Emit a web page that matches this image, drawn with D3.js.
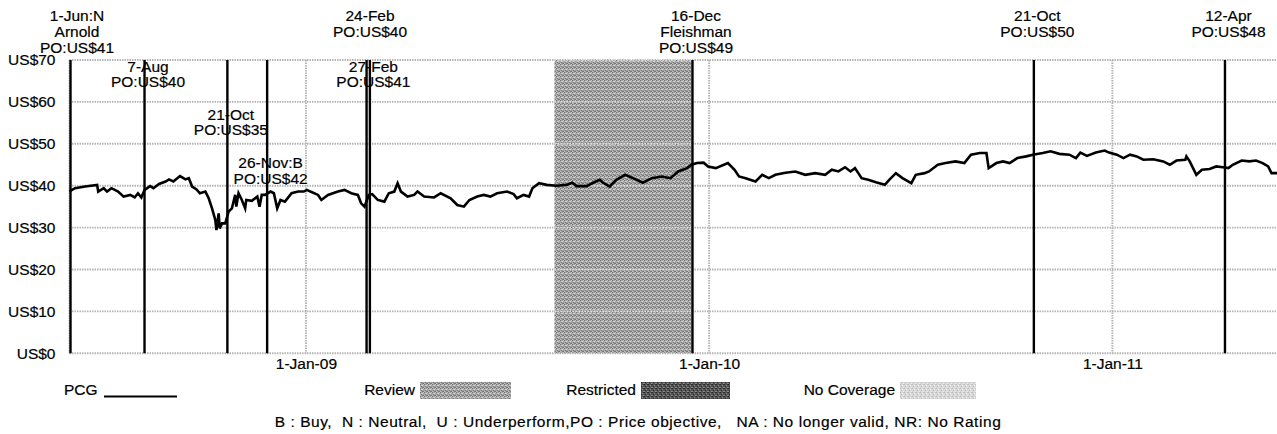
<!DOCTYPE html>
<html><head><meta charset="utf-8">
<script src="https://cdn.jsdelivr.net/npm/d3@7"></script>
<style>
html,body{margin:0;padding:0;background:#fff;}
text{font-family:"Liberation Sans",Arial,sans-serif;fill:#000;stroke:#000;stroke-width:0.2px;}
</style></head>
<body><svg id="c" width="1277" height="434"></svg>
<script>
// ---------- data ----------
const priceDates = ["2008-06-01","2008-06-02","2008-06-06","2008-06-15","2008-06-26","2008-06-27","2008-07-02","2008-07-05","2008-07-09","2008-07-15","2008-07-20","2008-07-26","2008-07-30","2008-08-02","2008-08-05","2008-08-08","2008-08-13","2008-08-16","2008-08-21","2008-08-27","2008-08-30","2008-09-03","2008-09-09","2008-09-14","2008-09-17","2008-09-20","2008-09-24","2008-09-27","2008-10-02","2008-10-05","2008-10-08","2008-10-11","2008-10-12","2008-10-14","2008-10-15","2008-10-17","2008-10-20","2008-10-23","2008-10-26","2008-10-29","2008-10-30","2008-11-01","2008-11-04","2008-11-07","2008-11-08","2008-11-13","2008-11-18","2008-11-20","2008-11-22","2008-11-25","2008-11-30","2008-12-03","2008-12-06","2008-12-09","2008-12-13","2008-12-19","2008-12-25","2008-12-30","2009-01-02","2009-01-05","2009-01-12","2009-01-15","2009-01-21","2009-01-30","2009-02-05","2009-02-11","2009-02-17","2009-02-20","2009-02-23","2009-02-27","2009-03-02","2009-03-07","2009-03-13","2009-03-17","2009-03-22","2009-03-25","2009-03-28","2009-04-03","2009-04-09","2009-04-12","2009-04-18","2009-04-27","2009-05-03","2009-05-12","2009-05-18","2009-05-24","2009-05-29","2009-06-05","2009-06-11","2009-06-17","2009-06-23","2009-07-02","2009-07-08","2009-07-11","2009-07-17","2009-07-22","2009-07-25","2009-07-31","2009-08-07","2009-08-16","2009-08-25","2009-08-30","2009-09-03","2009-09-12","2009-09-18","2009-09-24","2009-09-27","2009-10-03","2009-10-09","2009-10-17","2009-10-24","2009-11-02","2009-11-10","2009-11-19","2009-11-27","2009-12-04","2009-12-12","2009-12-16","2009-12-21","2009-12-27","2009-12-31","2010-01-07","2010-01-18","2010-01-24","2010-01-28","2010-02-03","2010-02-12","2010-02-18","2010-02-24","2010-03-02","2010-03-11","2010-03-20","2010-03-29","2010-04-07","2010-04-16","2010-04-22","2010-04-28","2010-05-04","2010-05-09","2010-05-13","2010-05-19","2010-05-25","2010-06-01","2010-06-09","2010-06-13","2010-06-19","2010-06-25","2010-07-03","2010-07-07","2010-07-15","2010-07-19","2010-07-27","2010-08-03","2010-08-12","2010-08-20","2010-08-26","2010-09-03","2010-09-09","2010-09-11","2010-09-18","2010-09-24","2010-09-30","2010-10-07","2010-10-15","2010-10-21","2010-10-30","2010-11-06","2010-11-14","2010-11-23","2010-11-29","2010-12-03","2010-12-09","2010-12-17","2010-12-25","2010-12-29","2011-01-05","2011-01-11","2011-01-17","2011-01-23","2011-01-29","2011-02-07","2011-02-16","2011-02-22","2011-02-28","2011-03-08","2011-03-09","2011-03-12","2011-03-15","2011-03-18","2011-03-23","2011-03-30","2011-04-05","2011-04-11","2011-04-16","2011-04-20","2011-04-28","2011-05-05","2011-05-11","2011-05-17","2011-05-22","2011-05-25","2011-05-30"];
const priceValues = [39.0,38.8,39.4,39.8,40.2,38.6,39.4,38.6,39.4,38.6,37.4,37.8,37.2,38.2,37.2,39.0,39.9,39.4,40.4,41.0,41.5,41.0,42.3,41.5,41.8,39.8,39.1,38.2,38.6,37.0,34.6,31.8,29.4,33.4,29.8,31.0,31.0,33.8,34.6,37.8,35.0,38.2,36.6,34.6,36.6,36.4,37.4,35.0,37.8,37.8,38.6,38.2,34.6,36.6,36.2,38.2,38.6,38.6,39.0,38.6,37.8,36.6,37.8,38.6,39.0,38.2,37.8,35.8,35.0,37.8,38.0,36.6,36.2,38.2,38.6,40.6,38.6,37.4,37.8,38.6,37.4,37.2,38.2,37.0,35.4,35.0,36.6,37.4,37.8,37.4,38.2,38.6,38.0,37.0,37.8,37.4,39.4,40.6,40.2,40.0,40.2,40.7,39.9,39.9,40.7,41.4,40.7,39.8,41.4,42.6,41.8,40.7,41.8,42.2,41.8,43.4,44.2,45.0,45.4,45.5,44.6,44.2,45.4,43.8,42.2,41.8,41.0,42.6,41.8,42.6,43.1,43.4,42.6,43.0,42.6,43.8,43.4,44.4,43.4,44.2,41.8,41.4,40.8,40.2,41.4,43.0,41.8,40.6,42.6,43.0,43.4,45.0,45.4,45.8,45.4,47.4,47.8,47.8,44.2,45.4,45.8,45.4,46.6,47.0,47.4,47.8,48.2,47.6,47.4,46.6,47.9,47.1,47.9,48.4,47.9,47.4,46.6,47.4,47.0,46.2,46.3,45.8,45.0,46.0,46.2,47.0,45.8,44.2,42.6,43.8,44.0,44.6,44.4,44.2,45.0,46.0,45.8,46.0,45.4,44.6,43.0,43.0];

const ratingDates = ["2008-06-01","2008-08-07","2008-10-21","2008-11-26","2009-02-24","2009-02-27","2009-12-16","2010-10-21","2011-04-12"];
const ratingLabels = [
  ["1-Jun:N","Arnold","PO:US$41"],
  ["7-Aug","PO:US$40"],
  ["21-Oct","PO:US$35"],
  ["26-Nov:B","PO:US$42"],
  ["24-Feb","PO:US$40"],
  ["27-Feb","PO:US$41"],
  ["16-Dec","Fleishman","PO:US$49"],
  ["21-Oct","PO:US$50"],
  ["12-Apr","PO:US$48"]
];
const reviewStart = "2009-08-14";
const reviewEnd = "2009-12-16";
const yTicks = [0,10,20,30,40,50,60,70];
const xTickDates = ["2009-01-01","2010-01-01","2011-01-01"];
const xTickLabels = ["1-Jan-09","1-Jan-10","1-Jan-11"];
const legendItems = ["Review","Restricted","No Coverage"];
const seriesName = "PCG";
const footnote = "B : Buy,  N : Neutral,  U : Underperform,PO : Price objective,   NA : No longer valid, NR: No Rating";

// ---------- layout ----------
const parse = d3.timeParse("%Y-%m-%d");
const svg = d3.select("#c");
const L = 69.5, R = 1277, T = 60, B = 353.3;
const FS = "15.5px";
const x = d3.scaleTime().domain([parse("2008-06-01"), parse("2011-05-30")]).range([L, R]);
const y = d3.scaleLinear().domain([0, 70]).range([B, T]);

// patterns
const defs = svg.append("defs");
function pat(id, base, dots) {
  const p = defs.append("pattern").attr("id", id).attr("width", 4).attr("height", 4)
    .attr("patternUnits", "userSpaceOnUse");
  p.append("rect").attr("width", 4).attr("height", 4).attr("fill", base);
  dots.forEach(d => p.append("rect").attr("x", d[0]).attr("y", d[1]).attr("width", 1).attr("height", 1).attr("fill", d[2]));
}
pat("pReview", "#a4a4a4", [[0,0,"#707070"],[2,1,"#cccccc"],[1,2,"#7a7a7a"],[3,3,"#727272"],[3,0,"#c8c8c8"],[0,3,"#c6c6c6"],[2,3,"#808080"],[1,1,"#d0d0d0"]]);
pat("pRestr", "#545454", [[0,0,"#222"],[2,1,"#8a8a8a"],[1,2,"#2a2a2a"],[3,3,"#909090"],[3,0,"#333"],[0,3,"#7e7e7e"]]);
pat("pNoCov", "#d8d8d8", [[0,0,"#bcbcbc"],[2,1,"#f2f2f2"],[1,2,"#c0c0c0"],[3,3,"#eeeeee"],[3,0,"#c6c6c6"]]);

// review shading
svg.append("rect").attr("x", x(parse(reviewStart))).attr("y", y(70))
  .attr("width", x(parse(reviewEnd)) - x(parse(reviewStart))).attr("height", y(0) - y(70))
  .attr("fill", "url(#pReview)");

// grid
const grid = svg.append("g").attr("stroke", "#b4b4b4").attr("stroke-width", 1.9).attr("stroke-dasharray", "1.5,1");
grid.selectAll("line.h").data(yTicks).join("line").attr("class", "h")
  .attr("x1", L).attr("x2", R).attr("y1", d => y(d)).attr("y2", d => y(d));
grid.selectAll("line.v").data(xTickDates).join("line").attr("class", "v")
  .attr("x1", d => x(parse(d))).attr("x2", d => x(parse(d))).attr("y1", y(70)).attr("y2", y(0));
grid.append("line").attr("x1", L).attr("x2", L).attr("y1", y(70)).attr("y2", y(0));
// lighter grid over the review band
const rx0 = x(parse(reviewStart)), rx1 = x(parse(reviewEnd));
svg.append("g").attr("stroke", "#dedede").attr("stroke-width", 1.4).attr("stroke-dasharray", "1.5,1.5")
  .selectAll("line").data(yTicks.slice(1)).join("line")
  .attr("x1", rx0).attr("x2", rx1).attr("y1", d => y(d)).attr("y2", d => y(d));

// axes
const yAxis = d3.axisLeft(y).tickValues(yTicks).tickSize(0).tickPadding(14).tickFormat(d => "US$" + d);
const ya = svg.append("g").attr("transform", `translate(${L},0)`).call(yAxis);
ya.select(".domain").remove();
ya.selectAll("text").attr("font-size", FS).style("font-family", '"Liberation Sans",Arial,sans-serif').attr("fill", "#000");

const xAxis = d3.axisBottom(x).tickValues(xTickDates.map(parse)).tickSize(0).tickPadding(5)
  .tickFormat((d, i) => xTickLabels[i]);
const xa = svg.append("g").attr("transform", `translate(0,${B})`).call(xAxis);
xa.select(".domain").remove();
xa.selectAll("text").attr("font-size", FS).style("font-family", '"Liberation Sans",Arial,sans-serif').attr("fill", "#000");

// rating lines
svg.append("g").selectAll("line").data(ratingDates).join("line")
  .attr("x1", d => x(parse(d)) + 1).attr("x2", d => x(parse(d)) + 1)
  .attr("y1", y(70)).attr("y2", y(0)).attr("stroke", "#000").attr("stroke-width", 2.4);

// price line
const pts = priceDates.map((d, i) => [parse(d), priceValues[i]]);
svg.append("path").datum(pts).attr("fill", "none").attr("stroke", "#000").attr("stroke-width", 2.6)
  .attr("stroke-linejoin", "miter").attr("d", d3.line().x(d => x(d[0])).y(d => y(d[1])));

// rating labels
const labelLevel = [0, 1, 2, 3, 0, 1, 0, 0, 0];
const levelBase = [21, 71.5, 119.5, 168];
const lineH = 15.8;
const lab = svg.append("g").attr("font-size", FS).attr("text-anchor", "middle");
ratingLabels.forEach((lines, i) => {
  let cx = x(parse(ratingDates[i])) + 4.5;
  if (i === 0) cx = 77;
  lines.forEach((s, j) => {
    lab.append("text").attr("x", cx).attr("y", levelBase[labelLevel[i]] + j * lineH).text(s);
  });
});

// legend
const lg = svg.append("g").attr("font-size", FS);
lg.append("text").attr("x", 64).attr("y", 395).text(seriesName);
lg.append("line").attr("x1", 104).attr("x2", 177).attr("y1", 396.5).attr("y2", 396.5)
  .attr("stroke", "#000").attr("stroke-width", 2);
const boxX = [420, 641, 900], boxW = [91, 89, 76], fills = ["url(#pReview)", "url(#pRestr)", "url(#pNoCov)"];
legendItems.forEach((s, i) => {
  lg.append("text").attr("x", boxX[i] - 5).attr("y", 395).attr("text-anchor", "end").text(s);
  lg.append("rect").attr("x", boxX[i]).attr("y", 382).attr("width", boxW[i]).attr("height", 17).attr("fill", fills[i]);
});
lg.append("text").attr("x", 638).attr("y", 427).attr("text-anchor", "middle").attr("font-size", "15.5px")
  .style("white-space", "pre").attr("letter-spacing", "0.55px").text(footnote);
</script></body></html>
